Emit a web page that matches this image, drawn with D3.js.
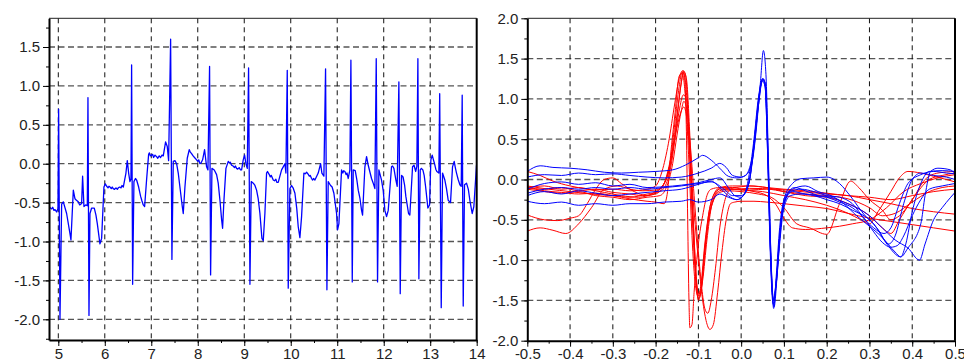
<!DOCTYPE html>
<html>
<head>
<meta charset="utf-8">
<script src="https://cdn.jsdelivr.net/npm/d3@7"></script>
<style>
  body { margin: 0; background: #fff; }
  svg { display: block; }
</style>
</head>
<body>
<div id="chart"></div>
<script>
// ECG trace, left panel: [time (s), amplitude]
const ecg = [
  [4.80,-0.55],[4.83,-0.57],[4.857,-0.58],[4.88,-0.56],[4.907,-0.60],[4.93,-0.59],[4.964,-0.62],[4.993,-0.58],[5.007,0.70],[5.036,-2.00],[5.072,-0.52],
  [5.108,-0.49],[5.179,-0.64],[5.251,-0.90],[5.272,-0.98],[5.323,-0.34],[5.358,-0.45],[5.39,-0.47],[5.43,-0.49],[5.46,-0.53],[5.502,-0.51],
  [5.523,-0.16],[5.552,-0.55],[5.59,-0.53],[5.624,-0.54],[5.638,0.85],[5.66,-1.95],[5.681,-0.64],[5.717,-0.57],[5.774,-0.57],
  [5.81,-0.66],[5.839,-0.77],[5.896,-1.03],[5.932,-0.96],[5.982,-0.30],[6.011,-0.26],[6.04,-0.29],[6.07,-0.31],[6.09,-0.29],[6.111,-0.30],
  [6.14,-0.32],[6.16,-0.30],[6.183,-0.32],[6.21,-0.33],[6.24,-0.31],[6.27,-0.33],[6.29,-0.31],[6.32,-0.30],[6.35,-0.31],[6.37,-0.28],
  [6.398,-0.30],[6.455,-0.12],[6.484,0.04],[6.513,-0.12],[6.541,-0.23],[6.563,-0.20],[6.577,1.27],
  [6.599,-1.55],[6.627,-0.23],[6.66,-0.19],[6.685,-0.21],[6.728,-0.30],[6.771,-0.42],[6.8,-0.48],[6.828,-0.53],[6.857,-0.55],[6.9,-0.20],
  [6.943,0.12],[6.96,0.14],[6.98,0.10],[7.007,0.11],[7.03,0.12],[7.05,0.08],[7.08,0.11],[7.115,0.09],[7.14,0.07],[7.17,0.10],[7.2,0.08],
  [7.23,0.11],[7.258,0.10],[7.308,0.28],[7.344,0.22],[7.373,0.04],[7.416,1.60],
  [7.444,-1.23],[7.473,0.03],[7.509,0.04],[7.545,0.00],[7.58,-0.12],[7.616,-0.30],[7.667,-0.55],[7.688,-0.64],[7.724,-0.30],
  [7.774,0.07],[7.817,0.18],[7.84,0.15],[7.867,0.13],[7.9,0.10],[7.93,0.08],[7.975,0.05],[8.0,0.03],[8.02,0.05],[8.047,0.00],[8.07,0.01],
  [8.104,0.05],[8.147,0.18],[8.19,-0.04],
  [8.219,-0.08],[8.254,1.25],[8.276,-1.43],[8.305,-0.06],[8.355,-0.08],[8.405,-0.14],[8.44,-0.25],[8.477,-0.47],[8.513,-0.72],
  [8.534,-0.83],[8.563,-0.47],[8.606,-0.06],[8.656,0.03],[8.68,0.01],[8.70,0.02],[8.728,-0.02],[8.76,-0.03],[8.79,-0.05],[8.81,-0.03],
  [8.835,-0.06],[8.86,-0.07],[8.89,-0.05],[8.92,-0.08],[8.943,-0.08],[8.978,0.05],
  [9.007,0.11],[9.036,0.00],[9.065,-0.06],[9.093,1.23],[9.122,-1.55],[9.151,-0.23],[9.194,-0.25],[9.23,-0.28],[9.265,-0.34],
  [9.30,-0.45],[9.337,-0.64],[9.38,-0.96],[9.409,-0.99],[9.444,-0.64],[9.48,-0.12],[9.5,-0.10],[9.538,-0.14],[9.56,-0.17],[9.58,-0.15],
  [9.624,-0.21],[9.65,-0.22],[9.68,-0.20],[9.70,-0.24],[9.731,-0.24],
  [9.803,-0.08],[9.839,-0.04],[9.875,0.00],[9.896,-0.12],[9.925,1.20],[9.946,-1.60],[9.982,-0.32],[10.018,-0.28],
  [10.05,-0.31],[10.09,-0.38],[10.13,-0.58],[10.161,-0.81],[10.197,-0.95],[10.233,-0.68],[10.283,-0.12],[10.31,-0.13],[10.341,-0.11],
  [10.37,-0.13],[10.4,-0.16],[10.42,-0.15],[10.448,-0.19],[10.47,-0.21],[10.49,-0.19],[10.52,-0.21],
  [10.591,-0.12],[10.642,0.00],[10.67,-0.12],[10.713,-0.16],[10.749,1.22],[10.778,-1.62],[10.806,-0.23],[10.857,-0.28],
  [10.89,-0.30],[10.928,-0.38],[10.986,-0.64],[11.007,-0.85],[11.036,-0.77],[11.093,-0.08],[11.12,-0.12],[11.14,-0.09],[11.165,-0.10],
  [11.19,-0.14],[11.21,-0.12],[11.237,-0.19],[11.272,-0.08],
  [11.294,1.33],[11.323,-1.52],[11.344,-0.08],[11.387,-0.09],[11.42,-0.20],[11.452,-0.34],[11.49,-0.45],[11.523,-0.60],[11.545,-0.66],[11.595,-0.04],
  [11.631,0.09],[11.667,-0.02],[11.70,-0.10],[11.738,-0.19],[11.774,-0.25],[11.81,-0.32],[11.839,1.35],[11.867,-1.52],[11.896,-0.08],
  [11.953,-0.21],[11.99,-0.35],[12.025,-0.60],[12.061,-0.68],[12.097,-0.60],[12.168,-0.04],[12.19,-0.03],[12.219,-0.06],[12.262,-0.21],[12.29,-0.29],
  [12.326,1.05],[12.355,-1.67],[12.384,-0.15],[12.416,-0.17],[12.45,-0.28],[12.476,-0.42],[12.534,-0.64],[12.562,-0.66],[12.62,-0.04],
  [12.652,-0.02],[12.688,-0.10],[12.713,-0.03],[12.735,1.35],[12.756,-1.48],[12.785,-0.08],[12.81,-0.06],[12.842,-0.08],[12.87,-0.15],[12.9,-0.29],
  [12.95,-0.57],[12.986,-0.53],[13.014,0.05],[13.043,0.11],[13.07,0.05],[13.093,0.00],[13.12,-0.07],[13.143,-0.10],[13.186,-0.12],[13.204,0.90],
  [13.237,-1.85],[13.265,-0.12],[13.315,-0.21],[13.35,-0.32],[13.387,-0.47],[13.437,-0.50],[13.48,-0.04],[13.516,0.03],[13.54,-0.05],[13.566,-0.12],
  [13.60,-0.20],[13.638,-0.27],[13.667,-0.29],[13.688,0.88],[13.71,-1.83],[13.738,-0.27],[13.781,-0.25],[13.82,-0.33],[13.853,-0.47],[13.903,-0.64],
  [13.939,-0.55],[13.996,-0.02]
];

// Beats aligned on the right panel: [time offset (s), amplitude]
const blue1 = [[-0.5,0.1],[-0.47,0.17],[-0.44,0.15],[-0.4,0.14],[-0.36,0.12],[-0.32,0.09],[-0.28,0.08],[-0.24,0.09],[-0.2,0.1],[-0.16,0.12],[-0.13,0.18],[-0.1,0.27],[-0.09,0.3],[-0.07,0.24],[-0.05,0.14],[-0.03,0.04],[-0.01,0.02],[0.01,0.05],[0.025,0.2],[0.035,0.6],[0.045,1.2],[0.052,1.6],[0.058,1.3],[0.064,0.2],[0.07,-1.0],[0.076,-1.6],[0.082,-1.2],[0.09,-0.6],[0.1,-0.25],[0.12,-0.05],[0.14,0.01],[0.17,0.02],[0.2,0.03],[0.23,-0.05],[0.256,-0.21],[0.29,-0.45],[0.31,-0.55],[0.342,-0.81],[0.373,-0.96],[0.39,-0.85],[0.42,-0.55],[0.43,-0.2],[0.443,0.1],[0.46,0.14],[0.489,0.12],[0.5,0.07]];
const blue2 = [[-0.5,0.03],[-0.46,0.06],[-0.42,0.05],[-0.38,0.08],[-0.34,0.06],[-0.3,0.07],[-0.26,0.05],[-0.22,0.03],[-0.18,0.02],[-0.14,0.03],[-0.1,0.08],[-0.07,0.14],[-0.05,0.2],[-0.035,0.15],[-0.02,0.05],[0.0,0.03],[0.01,0.05],[0.02,0.15],[0.03,0.4],[0.04,0.9],[0.05,1.25],[0.056,1.2],[0.062,0.4],[0.068,-0.8],[0.075,-1.5],[0.082,-1.3],[0.09,-0.7],[0.1,-0.3],[0.12,-0.12],[0.15,-0.08],[0.18,-0.15],[0.21,-0.2],[0.24,-0.3],[0.27,-0.45],[0.3,-0.58],[0.33,-0.72],[0.36,-0.9],[0.373,-0.96],[0.385,-0.8],[0.4,-0.4],[0.42,-0.05],[0.44,0.1],[0.47,0.11],[0.5,0.1]];
const blue3 = [[-0.5,-0.12],[-0.46,-0.05],[-0.42,-0.03],[-0.38,-0.06],[-0.34,-0.04],[-0.3,-0.08],[-0.26,-0.06],[-0.22,-0.1],[-0.18,-0.09],[-0.14,-0.07],[-0.1,-0.04],[-0.07,0.0],[-0.05,0.02],[-0.03,-0.1],[-0.015,-0.2],[0.0,-0.22],[0.01,-0.15],[0.02,0.1],[0.03,0.5],[0.04,1.0],[0.05,1.25],[0.056,1.15],[0.062,0.3],[0.068,-0.9],[0.075,-1.55],[0.082,-1.3],[0.09,-0.8],[0.1,-0.35],[0.115,-0.2],[0.14,-0.18],[0.17,-0.2],[0.2,-0.25],[0.23,-0.3],[0.26,-0.38],[0.3,-0.5],[0.32,-0.62],[0.345,-0.8],[0.36,-0.7],[0.38,-0.3],[0.4,0.0],[0.42,0.08],[0.45,0.05],[0.48,0.03],[0.5,0.0]];
const blue4 = [[-0.5,-0.2],[-0.46,-0.15],[-0.42,-0.18],[-0.38,-0.14],[-0.34,-0.17],[-0.3,-0.2],[-0.26,-0.18],[-0.22,-0.16],[-0.18,-0.14],[-0.14,-0.12],[-0.1,-0.06],[-0.07,-0.02],[-0.05,-0.1],[-0.03,-0.2],[-0.01,-0.25],[0.005,-0.2],[0.02,0.0],[0.03,0.4],[0.04,0.9],[0.05,1.22],[0.056,1.15],[0.062,0.3],[0.068,-0.8],[0.076,-1.5],[0.083,-1.2],[0.09,-0.7],[0.1,-0.3],[0.12,-0.15],[0.15,-0.18],[0.18,-0.2],[0.21,-0.22],[0.24,-0.28],[0.27,-0.35],[0.3,-0.45],[0.33,-0.6],[0.36,-0.75],[0.39,-0.85],[0.417,-1.0],[0.43,-0.8],[0.45,-0.5],[0.47,-0.35],[0.49,-0.22],[0.5,-0.16]];
const blue5 = [[-0.5,-0.27],[-0.46,-0.3],[-0.42,-0.28],[-0.38,-0.32],[-0.34,-0.3],[-0.3,-0.32],[-0.26,-0.3],[-0.22,-0.3],[-0.18,-0.28],[-0.14,-0.27],[-0.12,-0.25],[-0.1,-0.28],[-0.07,-0.25],[-0.05,-0.18],[-0.03,-0.22],[-0.01,-0.25],[0.005,-0.2],[0.02,0.0],[0.03,0.45],[0.04,0.95],[0.05,1.23],[0.056,1.2],[0.062,0.4],[0.068,-0.8],[0.075,-1.5],[0.082,-1.25],[0.09,-0.75],[0.1,-0.3],[0.115,-0.15],[0.14,-0.12],[0.17,-0.15],[0.2,-0.2],[0.23,-0.22],[0.26,-0.3],[0.29,-0.5],[0.31,-0.6],[0.334,-0.67],[0.35,-0.6],[0.37,-0.3],[0.39,-0.05],[0.42,0.06],[0.45,0.1],[0.48,0.08],[0.5,0.07]];
const blue6 = [[-0.5,-0.17],[-0.46,-0.12],[-0.42,-0.1],[-0.38,-0.12],[-0.34,-0.1],[-0.3,-0.12],[-0.26,-0.1],[-0.22,-0.12],[-0.18,-0.1],[-0.14,-0.08],[-0.1,-0.05],[-0.07,-0.03],[-0.04,-0.12],[-0.02,-0.2],[0.0,-0.2],[0.015,-0.1],[0.025,0.2],[0.035,0.7],[0.045,1.15],[0.052,1.25],[0.058,1.1],[0.064,0.1],[0.07,-1.0],[0.077,-1.58],[0.084,-1.2],[0.092,-0.6],[0.105,-0.2],[0.125,-0.1],[0.15,-0.14],[0.18,-0.2],[0.2,-0.22],[0.23,-0.28],[0.26,-0.35],[0.29,-0.5],[0.31,-0.65],[0.33,-0.78],[0.35,-0.84],[0.365,-0.82],[0.38,-0.7],[0.4,-0.45],[0.42,-0.25],[0.44,-0.12],[0.47,-0.08],[0.5,-0.05]];

const red1 = [[-0.5,0.1],[-0.47,0.05],[-0.44,-0.02],[-0.4,-0.08],[-0.36,-0.12],[-0.32,-0.16],[-0.28,-0.2],[-0.24,-0.22],[-0.2,-0.15],[-0.18,-0.05],[-0.165,0.2],[-0.15,0.8],[-0.14,1.2],[-0.135,1.35],[-0.13,1.3],[-0.122,0.6],[-0.114,-0.4],[-0.106,-1.2],[-0.1,-1.5],[-0.093,-1.35],[-0.085,-0.9],[-0.075,-0.45],[-0.065,-0.25],[-0.05,-0.14],[-0.03,-0.12],[0.0,-0.13],[0.05,-0.15],[0.1,-0.2],[0.15,-0.25],[0.2,-0.32],[0.25,-0.42],[0.28,-0.5],[0.3,-0.55],[0.32,-0.4],[0.35,-0.15],[0.37,0.02],[0.39,0.1],[0.42,0.08],[0.45,0.04],[0.48,0.0],[0.5,-0.03]];
const red2 = [[-0.5,-0.44],[-0.46,-0.5],[-0.43,-0.51],[-0.4,-0.48],[-0.38,-0.45],[-0.36,-0.3],[-0.34,-0.12],[-0.32,0.0],[-0.3,0.02],[-0.28,-0.05],[-0.25,-0.15],[-0.22,-0.2],[-0.19,-0.12],[-0.17,0.1],[-0.155,0.5],[-0.145,0.85],[-0.135,1.05],[-0.128,1.0],[-0.12,0.4],[-0.112,-0.5],[-0.104,-1.3],[-0.098,-1.45],[-0.09,-1.25],[-0.08,-0.75],[-0.07,-0.35],[-0.06,-0.18],[-0.045,-0.1],[-0.02,-0.1],[0.02,-0.08],[0.06,-0.1],[0.1,-0.15],[0.15,-0.2],[0.2,-0.22],[0.25,-0.3],[0.3,-0.45],[0.33,-0.6],[0.35,-0.67],[0.37,-0.5],[0.4,-0.25],[0.44,0.0],[0.47,0.05],[0.5,0.08]];
const red3 = [[-0.5,-0.64],[-0.47,-0.6],[-0.44,-0.63],[-0.41,-0.67],[-0.38,-0.55],[-0.35,-0.35],[-0.32,-0.12],[-0.29,-0.08],[-0.26,-0.12],[-0.23,-0.14],[-0.2,-0.13],[-0.18,-0.05],[-0.165,0.25],[-0.155,0.7],[-0.145,1.15],[-0.138,1.33],[-0.133,1.3],[-0.128,0.6],[-0.125,-0.5],[-0.122,-1.5],[-0.12,-1.84],[-0.115,-1.8],[-0.11,-1.4],[-0.1,-0.8],[-0.09,-0.45],[-0.08,-0.2],[-0.07,-0.12],[-0.05,-0.1],[-0.02,-0.12],[0.02,-0.11],[0.08,-0.12],[0.14,-0.15],[0.2,-0.18],[0.25,-0.2],[0.3,-0.25],[0.35,-0.3],[0.4,-0.36],[0.45,-0.4],[0.5,-0.43]];
const red4 = [[-0.5,-0.1],[-0.46,-0.12],[-0.42,-0.1],[-0.38,-0.14],[-0.34,-0.12],[-0.3,-0.16],[-0.26,-0.18],[-0.23,-0.2],[-0.2,-0.18],[-0.18,-0.05],[-0.165,0.25],[-0.15,0.65],[-0.14,0.85],[-0.134,0.9],[-0.127,0.75],[-0.12,0.3],[-0.11,-0.4],[-0.1,-1.0],[-0.09,-1.5],[-0.082,-1.75],[-0.073,-1.86],[-0.065,-1.8],[-0.055,-1.4],[-0.045,-0.9],[-0.035,-0.5],[-0.025,-0.3],[-0.015,-0.28],[0.0,-0.27],[0.03,-0.27],[0.06,-0.28],[0.1,-0.3],[0.15,-0.33],[0.2,-0.36],[0.25,-0.42],[0.3,-0.48],[0.35,-0.52],[0.4,-0.56],[0.45,-0.6],[0.5,-0.64]];
const red5 = [[-0.5,-0.12],[-0.46,-0.15],[-0.42,-0.17],[-0.38,-0.15],[-0.34,-0.2],[-0.3,-0.22],[-0.26,-0.25],[-0.22,-0.22],[-0.19,-0.2],[-0.175,-0.1],[-0.16,0.2],[-0.15,0.55],[-0.14,0.85],[-0.134,0.97],[-0.128,0.9],[-0.12,0.5],[-0.11,-0.2],[-0.1,-0.9],[-0.092,-1.35],[-0.085,-1.6],[-0.078,-1.66],[-0.07,-1.5],[-0.06,-1.1],[-0.05,-0.6],[-0.04,-0.3],[-0.03,-0.15],[-0.015,-0.1],[0.0,-0.12],[0.03,-0.15],[0.06,-0.2],[0.08,-0.3],[0.1,-0.48],[0.12,-0.6],[0.15,-0.62],[0.2,-0.6],[0.23,-0.58],[0.26,-0.55],[0.3,-0.5],[0.34,-0.35],[0.38,-0.15],[0.42,-0.05],[0.46,0.02],[0.5,0.06]];
const red6 = [[-0.5,-0.1],[-0.46,-0.08],[-0.42,-0.12],[-0.38,-0.1],[-0.34,-0.13],[-0.3,-0.12],[-0.26,-0.14],[-0.22,-0.12],[-0.2,-0.08],[-0.185,0.1],[-0.17,0.45],[-0.155,0.95],[-0.145,1.25],[-0.137,1.35],[-0.13,1.2],[-0.122,0.5],[-0.114,-0.5],[-0.106,-1.25],[-0.1,-1.48],[-0.094,-1.4],[-0.086,-0.95],[-0.076,-0.5],[-0.066,-0.28],[-0.05,-0.16],[-0.03,-0.14],[0.0,-0.15],[0.04,-0.18],[0.07,-0.22],[0.1,-0.35],[0.13,-0.55],[0.16,-0.6],[0.2,-0.68],[0.23,-0.3],[0.256,-0.02],[0.275,-0.1],[0.3,-0.25],[0.33,-0.38],[0.35,-0.5],[0.37,-0.45],[0.4,-0.25],[0.43,0.0],[0.46,0.08],[0.5,0.1]];
const red7 = [[-0.5,-0.08],[-0.45,-0.12],[-0.4,-0.15],[-0.35,-0.18],[-0.3,-0.2],[-0.26,-0.22],[-0.22,-0.18],[-0.19,-0.15],[-0.175,-0.05],[-0.16,0.3],[-0.15,0.75],[-0.14,1.2],[-0.134,1.33],[-0.128,1.25],[-0.12,0.55],[-0.112,-0.5],[-0.105,-1.2],[-0.1,-1.42],[-0.094,-1.35],[-0.085,-0.85],[-0.075,-0.4],[-0.065,-0.2],[-0.05,-0.1],[-0.02,-0.08],[0.02,-0.08],[0.06,-0.1],[0.1,-0.12],[0.15,-0.14],[0.2,-0.17],[0.25,-0.2],[0.3,-0.22],[0.35,-0.25],[0.4,-0.2],[0.45,-0.15],[0.5,-0.12]];
const red8 = [[-0.5,-0.1],[-0.46,-0.14],[-0.42,-0.16],[-0.38,-0.18],[-0.34,-0.17],[-0.3,-0.2],[-0.26,-0.24],[-0.22,-0.27],[-0.2,-0.28],[-0.18,-0.3],[-0.172,-0.15],[-0.165,0.3],[-0.155,0.8],[-0.145,1.28],[-0.138,1.32],[-0.13,1.0],[-0.122,0.2],[-0.114,-0.8],[-0.106,-1.35],[-0.1,-1.45],[-0.094,-1.3],[-0.085,-0.8],[-0.075,-0.4],[-0.065,-0.2],[-0.05,-0.12],[-0.02,-0.12],[0.02,-0.13],[0.06,-0.12],[0.1,-0.15],[0.15,-0.18],[0.2,-0.2],[0.25,-0.24],[0.3,-0.35],[0.33,-0.45],[0.36,-0.42],[0.4,-0.28],[0.44,-0.15],[0.47,-0.1],[0.5,-0.08]];

const blueBeats = [blue1, blue2, blue3, blue4, blue5, blue6];
const redBeats = [red1, red2, red3, red4, red5, red6, red7, red8];

// Tick values
const leftXTicks = [5, 6, 7, 8, 9, 10, 11, 12, 13, 14];
const leftYTicks = [-2.0, -1.5, -1.0, -0.5, 0.0, 0.5, 1.0, 1.5];
const rightXTicks = [-0.5, -0.4, -0.3, -0.2, -0.1, 0.0, 0.1, 0.2, 0.3, 0.4, 0.5];
const rightYTicks = [-2.0, -1.5, -1.0, -0.5, 0.0, 0.5, 1.0, 1.5, 2.0];

const width = 964, height = 360;
const fontFamily = "'Liberation Sans', Arial, sans-serif";

const svg = d3.select("#chart").append("svg")
    .attr("width", width)
    .attr("height", height);

function drawPanel(cfg) {
    const x = d3.scaleLinear().domain(cfg.xDomain).range([cfg.left, cfg.right]);
    const y = d3.scaleLinear().domain(cfg.yDomain).range([cfg.bottom, cfg.top]);
    const g = svg.append("g");

    // horizontal grid (grey dashes)
    g.selectAll(".hgrid")
        .data(cfg.yTicks.filter(d => y(d) > cfg.top + 2 && y(d) < cfg.bottom - 2))
        .join("line")
        .attr("x1", cfg.left).attr("x2", cfg.right)
        .attr("y1", d => y(d)).attr("y2", d => y(d))
        .attr("stroke", "#555")
        .attr("stroke-width", 1.3)
        .attr("stroke-dasharray", "6,3.5");

    // vertical grid (black dashes)
    g.selectAll(".vgrid")
        .data(cfg.xTicks.filter(d => x(d) > cfg.left + 2 && x(d) < cfg.right - 2))
        .join("line")
        .attr("x1", d => x(d)).attr("x2", d => x(d))
        .attr("y1", cfg.top).attr("y2", cfg.bottom)
        .attr("stroke", "#111")
        .attr("stroke-width", 1)
        .attr("stroke-dasharray", "5,4");

    // traces
    const clipId = "clip" + cfg.id;
    svg.append("clipPath").attr("id", clipId)
        .append("rect")
        .attr("x", cfg.left).attr("y", cfg.top)
        .attr("width", cfg.right - cfg.left).attr("height", cfg.bottom - cfg.top);

    const line = d3.line()
        .x(d => x(d[0]))
        .y(d => y(d[1]))
        .curve(cfg.curve);

    cfg.series.forEach(s => {
        g.append("path")
            .datum(s.data)
            .attr("clip-path", `url(#${clipId})`)
            .attr("fill", "none")
            .attr("stroke", s.color)
            .attr("stroke-width", s.width)
            .attr("stroke-linejoin", "round")
            .attr("d", line);
    });

    // frame: top and right
    g.append("line")
        .attr("x1", cfg.left).attr("x2", cfg.right)
        .attr("y1", cfg.top).attr("y2", cfg.top)
        .attr("stroke", "#222").attr("stroke-width", 1);
    g.append("line")
        .attr("x1", cfg.right).attr("x2", cfg.right)
        .attr("y1", cfg.top).attr("y2", cfg.bottom)
        .attr("stroke", "#000").attr("stroke-width", 2);

    // minor ticks
    g.append("g")
        .attr("transform", `translate(${cfg.left},0)`)
        .call(d3.axisLeft(y).tickValues(cfg.yMinor).tickSize(3).tickFormat(""))
        .call(a => a.select(".domain").remove());
    g.append("g")
        .attr("transform", `translate(0,${cfg.bottom})`)
        .call(d3.axisBottom(x).tickValues(cfg.xMinor).tickSize(3).tickFormat(""))
        .call(a => a.select(".domain").remove());

    // major axes
    const yAxis = g.append("g")
        .attr("transform", `translate(${cfg.left},0)`)
        .call(d3.axisLeft(y).tickValues(cfg.yTicks).tickSize(6).tickSizeOuter(0).tickPadding(3)
            .tickFormat(d => d.toFixed(1)));
    const xAxis = g.append("g")
        .attr("transform", `translate(0,${cfg.bottom})`)
        .call(d3.axisBottom(x).tickValues(cfg.xTicks).tickSize(6).tickSizeOuter(0).tickPadding(2)
            .tickFormat(cfg.xFormat));

    [yAxis, xAxis].forEach(a => {
        a.select(".domain").attr("stroke", "#000").attr("stroke-width", 2);
        a.selectAll(".tick text")
            .attr("font-size", "15px")
            .attr("font-family", fontFamily)
            .attr("fill", "#222");
    });
}

drawPanel({
    id: "L",
    left: 49, right: 476.7, top: 18.3, bottom: 340,
    xDomain: [4.8, 14], yDomain: [-2.266, 1.869],
    xTicks: leftXTicks, yTicks: leftYTicks,
    xMinor: d3.range(5, 14.01, 0.5),
    yMinor: d3.range(-2.25, 1.8, 0.25),
    xFormat: d => String(d),
    curve: d3.curveLinear,
    series: [{ data: ecg, color: "#0000ff", width: 1.3 }]
});

drawPanel({
    id: "R",
    left: 527.3, right: 955, top: 18.3, bottom: 340.7,
    xDomain: [-0.5, 0.5], yDomain: [-2, 2],
    xTicks: rightXTicks, yTicks: rightYTicks,
    xMinor: d3.range(-0.5, 0.501, 0.05),
    yMinor: d3.range(-2, 2.001, 0.25),
    xFormat: d => d.toFixed(1),
    curve: d3.curveMonotoneX,
    series: redBeats.map(d => ({ data: d, color: "#ff0000", width: 1 }))
        .concat(blueBeats.map(d => ({ data: d, color: "#0000ff", width: 1 })))
});
</script>
</body>
</html>
